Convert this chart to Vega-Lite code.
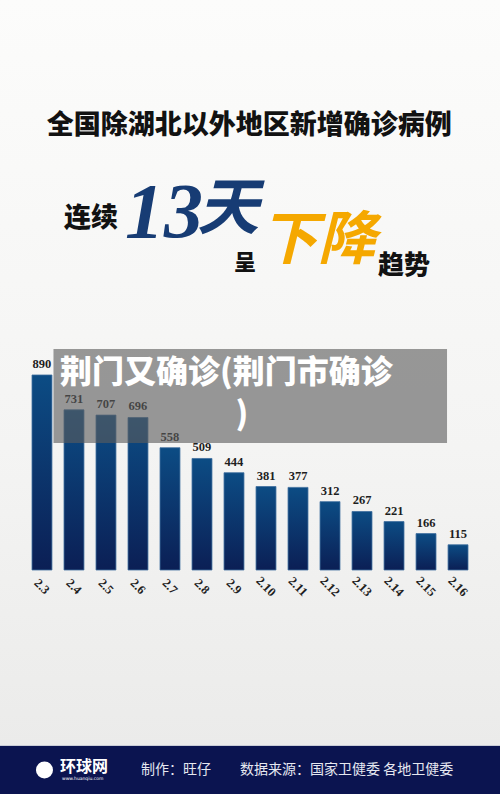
{
  "$schema": "https://vega.github.io/schema/vega-lite/v6.json",
  "width": 500,
  "height": 794,
  "autosize": {"type": "none"},
  "padding": 0,
  "background": "#f3f3f2",
  "config": {"view": {"stroke": null}},
  "datasets": {
    "cases": [
      {"date": "2.3", "value": 890},
      {"date": "2.4", "value": 731},
      {"date": "2.5", "value": 707},
      {"date": "2.6", "value": 696},
      {"date": "2.7", "value": 558},
      {"date": "2.8", "value": 509},
      {"date": "2.9", "value": 444},
      {"date": "2.10", "value": 381},
      {"date": "2.11", "value": 377},
      {"date": "2.12", "value": 312},
      {"date": "2.13", "value": 267},
      {"date": "2.14", "value": 221},
      {"date": "2.15", "value": 166},
      {"date": "2.16", "value": 115}
    ],
    "one": [{"id": 1}]
  },
  "data": {"name": "one"},
  "encoding": {
    "x": {
      "field": "date", "type": "nominal",
      "scale": {"domain": ["2.3","2.4","2.5","2.6","2.7","2.8","2.9","2.10","2.11","2.12","2.13","2.14","2.15","2.16"], "paddingInner": 0.377, "paddingOuter": 1.36},
      "axis": {"orient": "bottom", "offset": -224, "zindex": 1, "title": null, "domain": false, "ticks": false, "labelAngle": 45, "labelAlign": "center", "labelBaseline": "middle", "labelPadding": 16, "labelFont": "Liberation Serif", "labelFontSize": 12.5, "labelFontWeight": "bold", "labelColor": "#1e1e1e"}
    },
    "y": {"type": "quantitative", "scale": {"domain": [-1022.4, 2601.5], "nice": false, "zero": false}, "axis": null}
  },
  "layer": [
    {
      "mark": {"type": "rect", "color": {"gradient": "linear", "x1": 0, "y1": 0, "x2": 0, "y2": 1, "stops": [{"offset": 0, "color": "#fcfcfb"}, {"offset": 0.6, "color": "#f4f4f3"}, {"offset": 1, "color": "#ebebea"}]}},
      "encoding": {"x": null, "y": {"datum": 2601.5, "type": "quantitative"}, "y2": {"datum": -803.3}}
    },
    {
      "mark": {"type": "rect", "color": "#0b1450"},
      "encoding": {"x": null, "y": {"datum": -803.3, "type": "quantitative"}, "y2": {"datum": -1022.4}}
    },
    {
      "mark": {"type": "rule", "color": "#c9ccd6", "strokeWidth": 1},
      "encoding": {"x": null, "y": {"datum": -801, "type": "quantitative"}}
    },
    {
      "data": {"name": "cases"},
      "mark": {"type": "bar", "stroke": "#3f6e9e", "strokeWidth": 0.8, "color": {"gradient": "linear", "x1": 0, "y1": 0, "x2": 0, "y2": 1, "stops": [{"offset": 0, "color": "#0c4c84"}, {"offset": 1, "color": "#0b1f55"}]}},
      "encoding": {"y": {"field": "value", "type": "quantitative"}}
    },
    {
      "data": {"name": "cases"},
      "mark": {"type": "text", "baseline": "bottom", "dy": -4, "font": "Liberation Serif", "fontSize": 12.5, "fontWeight": "bold", "color": "#1e1e1e"},
      "encoding": {"y": {"field": "value", "type": "quantitative"}, "text": {"field": "value"}}
    },
    {
      "mark": {"type": "rect", "color": "#5c5c5c", "opacity": 0.62, "xOffset": 11.5, "x2Offset": -11},
      "encoding": {"x": {"datum": "2.3", "type": "nominal"}, "x2": {"datum": "2.16"}, "y": {"datum": 1008.7, "type": "quantitative"}, "y2": {"datum": 579.6}}
    },
    {
      "mark": {"type": "text", "align": "left", "baseline": "middle", "dx": -14, "font": "Noto Sans CJK SC", "fontSize": 32, "fontWeight": 900, "color": "#ffffff"},
      "encoding": {"x": {"datum": "2.4", "type": "nominal"}, "y": {"datum": 899.1, "type": "quantitative"}, "text": {"value": "荆门又确诊(荆门市确诊"}}
    },
    {
      "mark": {"type": "text", "align": "center", "baseline": "middle", "dx": 8, "font": "Noto Sans CJK SC", "fontSize": 32, "fontWeight": 900, "color": "#ffffff"},
      "encoding": {"x": {"datum": "2.9", "type": "nominal"}, "y": {"datum": 707.4, "type": "quantitative"}, "text": {"value": ")"}}
    },
    {
      "mark": {"type": "text", "align": "center", "baseline": "middle", "dx": 15.2, "font": "Noto Sans CJK SC", "fontSize": 27, "fontWeight": 900, "color": "#121212"},
      "encoding": {"x": {"datum": "2.9", "type": "nominal"}, "y": {"datum": 2026.5, "type": "quantitative"}, "text": {"value": "全国除湖北以外地区新增确诊病例"}}
    },
    {
      "mark": {"type": "text", "align": "left", "baseline": "middle", "dx": -10, "font": "Noto Sans CJK SC", "fontSize": 27, "fontWeight": 900, "color": "#121212"},
      "encoding": {"x": {"datum": "2.4", "type": "nominal"}, "y": {"datum": 1602, "type": "quantitative"}, "text": {"value": "连续"}}
    },
    {
      "mark": {"type": "text", "align": "left", "baseline": "alphabetic", "dx": -13, "font": "Liberation Serif", "fontSize": 78, "fontStyle": "italic", "fontWeight": "bold", "color": "#173c74"},
      "encoding": {"x": {"datum": "2.6", "type": "nominal"}, "y": {"datum": 1519.8, "type": "quantitative"}, "text": {"value": "13"}}
    },
    {
      "mark": {"type": "text", "align": "left", "baseline": "middle", "dx": -5, "font": "Noto Sans CJK SC", "fontSize": 62, "fontStyle": "italic", "fontWeight": "bold", "color": "#173c74"},
      "encoding": {"x": {"datum": "2.8", "type": "nominal"}, "y": {"datum": 1643, "type": "quantitative"}, "text": {"value": "天"}}
    },
    {
      "mark": {"type": "text", "align": "left", "baseline": "middle", "dx": 0, "font": "Noto Sans CJK SC", "fontSize": 22, "fontWeight": 900, "color": "#121212"},
      "encoding": {"x": {"datum": "2.9", "type": "nominal"}, "y": {"datum": 1401, "type": "quantitative"}, "text": {"value": "呈"}}
    },
    {
      "mark": {"type": "text", "align": "left", "baseline": "middle", "dx": -6, "font": "Noto Sans CJK SC", "fontSize": 58, "fontStyle": "italic", "fontWeight": "bold", "color": "#f5a800"},
      "encoding": {"x": {"datum": "2.10", "type": "nominal"}, "y": {"datum": 1497, "type": "quantitative"}, "text": {"value": "下降"}}
    },
    {
      "mark": {"type": "text", "align": "left", "baseline": "middle", "dx": 16, "font": "Noto Sans CJK SC", "fontSize": 26, "fontWeight": 900, "color": "#121212"},
      "encoding": {"x": {"datum": "2.13", "type": "nominal"}, "y": {"datum": 1387.5, "type": "quantitative"}, "text": {"value": "趋势"}}
    },
    {
      "mark": {"type": "point", "filled": true, "shape": "circle", "size": 290, "color": "#ffffff", "opacity": 1, "xOffset": 2.5},
      "encoding": {"x": {"datum": "2.3", "type": "nominal"}, "y": {"datum": -912.8, "type": "quantitative"}}
    },
    {
      "mark": {"type": "text", "align": "left", "baseline": "middle", "dx": -14, "font": "Noto Sans CJK SC", "fontSize": 16, "fontWeight": "bold", "color": "#ffffff"},
      "encoding": {"x": {"datum": "2.4", "type": "nominal"}, "y": {"datum": -899.1, "type": "quantitative"}, "text": {"value": "环球网"}}
    },
    {
      "mark": {"type": "text", "align": "left", "baseline": "middle", "dx": -12, "font": "DejaVu Sans", "fontSize": 4.5, "color": "#ffffff"},
      "encoding": {"x": {"datum": "2.4", "type": "nominal"}, "y": {"datum": -953.9, "type": "quantitative"}, "text": {"value": "www.huanqiu.com"}}
    },
    {
      "mark": {"type": "text", "align": "left", "baseline": "middle", "dx": 3, "font": "Noto Sans CJK SC", "fontSize": 14, "color": "#e6e8f0"},
      "encoding": {"x": {"datum": "2.6", "type": "nominal"}, "y": {"datum": -912.8, "type": "quantitative"}, "text": {"value": "制作：旺仔"}}
    },
    {
      "mark": {"type": "text", "align": "left", "baseline": "middle", "dx": 6, "font": "Noto Sans CJK SC", "fontSize": 14, "color": "#e6e8f0"},
      "encoding": {"x": {"datum": "2.9", "type": "nominal"}, "y": {"datum": -912.8, "type": "quantitative"}, "text": {"value": "数据来源：国家卫健委 各地卫健委"}}
    }
  ]
}
